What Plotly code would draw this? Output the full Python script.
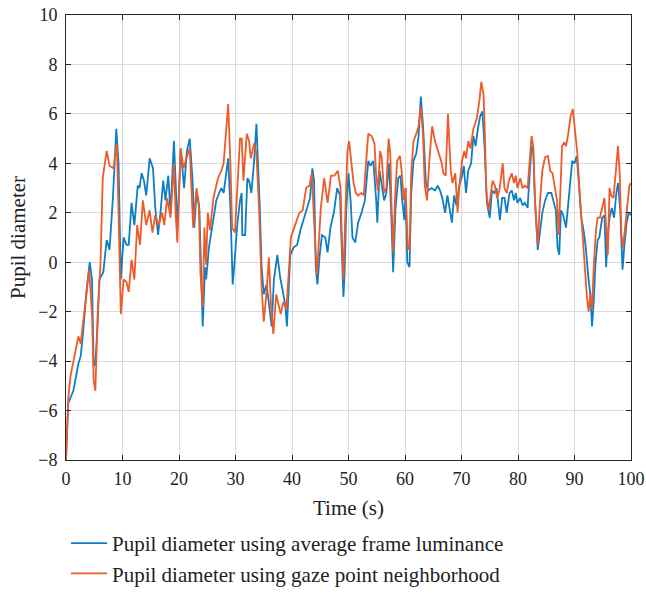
import plotly.graph_objects as go

blue_points = [(0,-8.0),(0.4,-5.7),(1.3,-5.2),(2.2,-4.1),(2.6,-3.8),(3.0,-2.9),(3.7,-1.0),(4.2,0.0),(4.6,-0.7),(4.9,-4.2),(5.2,-4.1),(5.6,-2.5),(5.9,-0.7),(6.6,-0.4),(7.2,0.9),(7.7,0.5),(8.3,2.6),(8.9,5.4),(9.3,4.0),(9.7,-0.7),(10.2,1.0),(10.7,0.7),(11.1,0.7),(11.6,2.4),(12.1,1.5),(12.7,3.1),(13.0,3.0),(13.4,3.6),(13.8,3.3),(14.2,2.7),(14.8,4.2),(15.4,3.8),(15.8,2.2),(16.3,1.1),(16.8,2.2),(17.2,3.3),(17.6,2.5),(18.1,3.5),(18.5,2.0),(19.1,4.9),(19.4,3.3),(19.7,1.3),(20.3,4.6),(20.9,3.0),(21.4,4.5),(21.9,5.0),(22.4,3.3),(22.7,1.4),(23.1,2.8),(23.6,2.2),(23.9,-0.2),(24.2,-2.6),(24.6,-0.2),(24.8,-0.7),(25.3,0.6),(25.9,1.5),(26.6,2.5),(27.1,2.8),(27.5,3.0),(27.9,2.8),(28.3,3.4),(28.7,4.2),(29.1,2.2),(29.5,-0.9),(29.9,0.2),(30.3,1.5),(30.8,2.5),(31.1,2.8),(31.2,1.1),(31.7,1.1),(32.1,3.4),(32.4,3.3),(32.8,2.8),(33.3,4.1),(33.7,5.6),(34.0,4.2),(34.3,2.2),(34.6,-0.1),(35.0,-1.3),(35.5,-0.9),(35.9,-1.7),(36.4,-2.6),(36.8,-0.7),(37.4,0.3),(37.9,-0.6),(38.4,-1.3),(38.8,-1.7),(39.1,-2.6),(39.4,-1.3),(39.7,0.3),(40.3,0.6),(40.9,0.7),(41.5,1.3),(42.0,1.7),(42.6,2.2),(43.2,2.6),(43.6,3.8),(43.9,3.3),(44.2,-0.2),(44.5,-0.9),(44.9,0.3),(45.3,1.1),(45.9,1.0),(46.3,0.4),(46.8,1.4),(47.4,2.0),(48.0,3.0),(48.5,2.7),(48.8,0.6),(49.1,-1.4),(49.3,-0.5),(49.6,2.1),(50.0,3.6),(50.4,2.4),(50.7,1.0),(51.2,0.8),(51.7,1.6),(52.3,2.0),(52.9,2.5),(53.5,4.1),(53.9,3.9),(54.4,4.1),(54.9,2.5),(55.1,1.6),(55.5,3.7),(55.9,3.0),(56.3,2.5),(56.7,2.8),(57.2,4.0),(57.6,1.7),(57.9,-0.4),(58.3,2.1),(58.8,3.4),(59.2,3.5),(59.5,2.5),(59.9,1.7),(60.1,3.0),(60.4,0.0),(60.8,-0.2),(61.1,2.8),(61.5,4.1),(62.0,4.4),(62.4,5.1),(62.8,6.7),(63.2,5.5),(63.7,3.2),(64.1,2.9),(64.7,3.0),(65.3,2.9),(65.8,3.1),(66.2,2.9),(66.6,2.6),(67.1,2.0),(67.5,2.7),(67.9,2.2),(68.3,1.6),(68.7,2.7),(69.1,2.3),(69.6,3.1),(70.1,3.5),(70.4,3.9),(70.8,2.8),(71.2,3.7),(71.7,4.0),(72.1,5.1),(72.5,4.7),(72.9,5.4),(73.3,5.9),(73.7,6.1),(74.1,4.6),(74.5,2.4),(75.0,1.8),(75.4,2.9),(75.8,2.8),(76.2,3.0),(76.5,2.2),(76.8,1.7),(77.2,2.6),(77.6,2.6),(78.0,2.0),(78.5,2.8),(78.9,2.9),(79.3,2.5),(79.6,2.8),(79.9,2.4),(80.4,2.6),(80.8,2.3),(81.2,2.4),(81.7,2.2),(82.1,3.7),(82.4,4.7),(82.7,4.5),(83.0,2.5),(83.5,0.5),(83.9,1.3),(84.3,2.0),(84.8,2.5),(85.3,2.8),(85.9,2.8),(86.3,2.5),(86.7,2.1),(87.0,0.6),(87.3,0.3),(87.6,2.1),(88.0,1.9),(88.5,1.4),(88.8,2.2),(89.2,3.3),(89.6,4.1),(90.0,4.0),(90.4,4.3),(90.8,3.1),(91.2,1.8),(91.6,1.3),(92.0,0.6),(92.4,-0.5),(92.8,-1.3),(93.1,-2.6),(93.4,-1.6),(93.7,-0.1),(94.1,0.9),(94.4,1.0),(94.9,1.8),(95.3,1.9),(95.6,-0.2),(95.9,1.1),(96.2,1.8),(96.6,2.2),(97.0,1.8),(97.4,2.8),(97.7,3.2),(98.1,2.1),(98.5,-0.3),(98.8,0.6),(99.2,1.55),(99.6,2.0),(100,1.9)]

orange_points = [(0,-8.0),(0.4,-5.5),(0.8,-4.6),(1.6,-3.7),(2.2,-3.0),(2.6,-3.3),(3.0,-2.5),(3.6,-1.3),(4.1,-0.3),(4.6,-2.1),(4.9,-4.8),(5.2,-5.2),(5.6,-2.1),(6.1,-0.1),(6.5,3.4),(7.2,4.5),(7.7,3.9),(8.4,3.8),(9.0,4.8),(9.3,2.0),(9.7,-2.1),(10.2,-0.7),(10.7,-0.8),(11.1,-1.2),(11.6,0.1),(12.1,-0.7),(12.6,1.5),(13.1,0.7),(13.6,2.5),(14.2,1.5),(14.8,2.1),(15.3,1.2),(15.8,1.9),(16.4,1.5),(17.0,2.0),(17.4,1.5),(17.9,2.6),(18.5,1.8),(19.1,4.0),(19.4,2.0),(19.7,0.8),(20.3,4.6),(20.8,3.8),(21.3,4.2),(21.9,4.6),(22.5,1.4),(23.1,3.0),(23.5,2.4),(23.8,-0.5),(24.2,-1.8),(24.5,1.4),(24.8,-0.1),(25.1,2.0),(25.5,1.3),(26.1,2.6),(26.9,3.4),(27.5,3.7),(27.9,4.0),(28.3,5.3),(28.7,6.4),(29.1,4.0),(29.4,1.4),(29.9,1.2),(30.3,2.9),(30.8,5.0),(31.1,5.0),(31.4,3.3),(32.0,5.2),(32.4,4.9),(32.7,4.2),(33.3,4.8),(33.7,4.4),(34.2,2.0),(34.6,-0.9),(35.0,-2.4),(35.5,-1.2),(35.9,0.2),(36.3,-1.8),(36.7,-2.9),(37.2,-1.3),(37.6,-1.7),(38.0,-2.1),(38.5,-1.6),(39.0,-1.9),(39.4,-0.5),(39.8,1.0),(40.4,1.4),(40.9,1.7),(41.3,2.0),(41.9,2.1),(42.5,3.0),(43.1,3.1),(43.5,3.6),(43.9,1.7),(44.4,-0.5),(44.7,0.6),(45.1,2.2),(45.7,3.4),(46.3,2.4),(46.9,3.5),(47.5,3.5),(48.1,3.7),(48.6,3.0),(48.8,1.2),(49.1,-0.7),(49.4,1.7),(49.8,4.5),(50.1,4.9),(50.4,4.3),(50.9,3.2),(51.3,2.8),(51.7,2.7),(52.3,2.8),(52.7,2.7),(53.2,4.3),(53.5,5.2),(54.1,5.1),(54.6,4.8),(54.9,3.5),(55.2,2.9),(55.6,4.5),(55.9,4.2),(56.3,2.8),(56.7,3.0),(57.1,5.0),(57.4,4.4),(57.6,2.4),(57.9,0.4),(58.2,2.4),(58.6,4.1),(59.1,4.3),(59.4,3.7),(59.8,2.5),(60.1,3.0),(60.5,0.6),(60.8,0.5),(61.1,3.6),(61.5,4.9),(62.0,5.2),(62.4,5.5),(62.8,6.3),(63.2,5.1),(63.5,3.1),(63.9,2.5),(64.3,4.1),(64.8,5.5),(65.3,4.9),(65.9,4.5),(66.4,4.1),(66.8,3.6),(67.2,3.5),(67.6,6.0),(67.8,5.2),(68.1,3.7),(68.4,3.2),(68.9,3.6),(69.3,2.0),(69.6,3.0),(70.1,4.1),(70.5,4.5),(70.8,4.2),(71.2,4.9),(71.6,4.6),(72.1,5.4),(72.7,5.8),(73.2,6.6),(73.5,7.3),(73.9,6.8),(74.1,5.5),(74.4,2.8),(74.8,2.1),(75.1,2.6),(75.5,3.3),(75.9,3.1),(76.3,2.6),(76.7,2.9),(77.0,3.4),(77.3,4.0),(77.6,3.0),(78.0,2.8),(78.4,3.3),(78.9,3.6),(79.3,3.2),(79.6,3.5),(79.9,3.0),(80.4,3.4),(80.8,3.0),(81.2,3.1),(81.7,3.0),(82.1,4.1),(82.4,5.1),(82.7,4.7),(83.0,2.5),(83.5,0.7),(83.9,2.5),(84.3,3.7),(84.8,4.25),(85.3,4.3),(85.7,3.7),(86.1,3.6),(86.6,3.0),(86.9,2.5),(87.2,1.1),(87.5,2.7),(87.8,4.7),(88.2,4.85),(88.5,4.7),(88.9,5.2),(89.3,5.9),(89.7,6.2),(90.1,5.3),(90.5,4.4),(91.0,2.5),(91.4,1.1),(91.9,-0.5),(92.2,-1.4),(92.5,-2.0),(92.8,-1.3),(93.1,-1.9),(93.4,-0.2),(93.8,1.3),(94.1,1.8),(94.5,1.8),(95.0,2.4),(95.3,2.6),(95.6,1.4),(95.9,0.3),(96.2,3.0),(96.5,2.7),(96.9,2.6),(97.3,3.8),(97.7,4.7),(98.0,3.6),(98.3,1.1),(98.6,0.6),(98.9,1.3),(99.3,2.4),(99.7,3.1),(100,3.2)]

blue_time = [p[0] for p in blue_points]
blue_diam = [p[1] for p in blue_points]
orange_time = [p[0] for p in orange_points]
orange_diam = [p[1] for p in orange_points]

x_ticks = [0, 10, 20, 30, 40, 50, 60, 70, 80, 90, 100]
y_ticks = [-8, -6, -4, -2, 0, 2, 4, 6, 8, 10]

FONT = "Liberation Serif, Times New Roman, serif"
BLUE = "#0E7EC4"
ORANGE = "#EE5B2A"
TXT = "#222222"

fig = go.Figure()
fig.add_trace(go.Scatter(x=blue_time, y=blue_diam, mode="lines",
                         name="Pupil diameter using average frame luminance",
                         line=dict(color=BLUE, width=1.8)))
fig.add_trace(go.Scatter(x=orange_time, y=orange_diam, mode="lines",
                         name="Pupil diameter using gaze point neighborhood",
                         line=dict(color=ORANGE, width=1.8)))

axis_common = dict(showline=True, linecolor="#262626", linewidth=1, mirror="ticks",
                   ticks="inside", ticklen=5, tickcolor="#262626", automargin=False,
                   showgrid=True, gridcolor="#DADADA", gridwidth=1, zeroline=False,
                   tickfont=dict(family=FONT, size=18, color=TXT))

fig.update_xaxes(range=[0, 100], tickvals=x_ticks, ticklabelstandoff=2, **axis_common,
                 title=dict(text="Time (s)", font=dict(family=FONT, size=21, color=TXT), standoff=12))
fig.update_yaxes(range=[-8, 10], tickvals=y_ticks, ticklabelstandoff=4, **axis_common,
                 title=dict(text="Pupil diameter", font=dict(family=FONT, size=21, color=TXT), standoff=6))

FIG_H = 606
PLOT_BOTTOM = 460
PLOT_H = 445
fig.update_layout(
    width=646, height=FIG_H,
    margin=dict(l=66, r=15, t=15, b=FIG_H - PLOT_BOTTOM),
    plot_bgcolor="white", paper_bgcolor="white",
    font=dict(family=FONT, size=21, color=TXT),
    showlegend=True,
    legend=dict(orientation="v", x=0.0, xanchor="left",
                y=-(594 - PLOT_BOTTOM) / PLOT_H, yanchor="bottom",
                bgcolor="rgba(0,0,0,0)", font=dict(family=FONT, size=21, color=TXT),
                tracegroupgap=0, itemwidth=36),
)

fig.write_html("out.html", config={"displayModeBar": False})

# remove the default page margin so the figure sits at the window's top-left corner
with open("out.html", "r", encoding="utf-8") as f:
    html = f.read()
html = html.replace("<head>", "<head><style>html,body{margin:0;padding:0;overflow:hidden;}</style>", 1)
with open("out.html", "w", encoding="utf-8") as f:
    f.write(html)
